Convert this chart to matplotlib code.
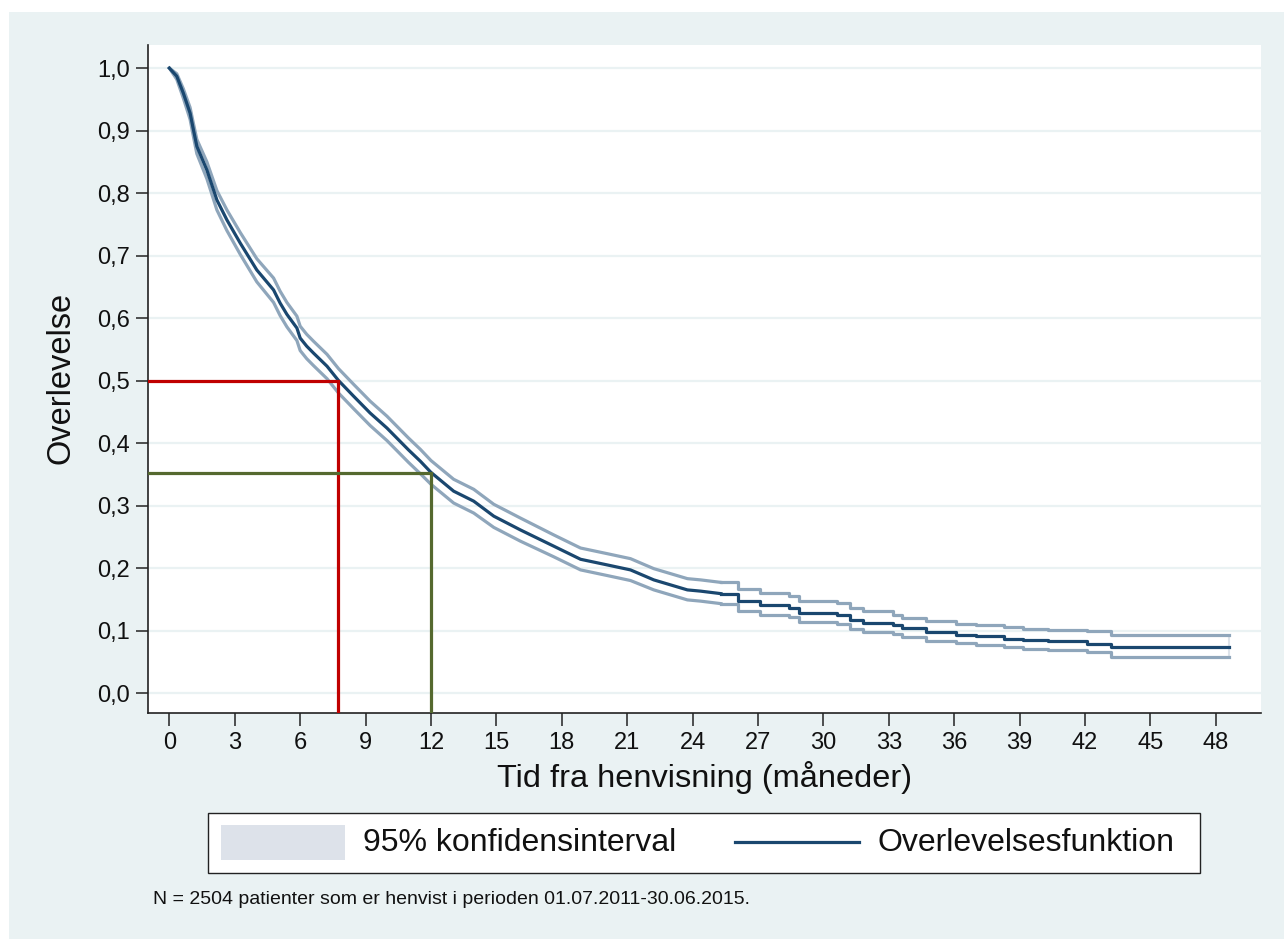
import matplotlib
matplotlib.use("Agg")
import matplotlib.pyplot as plt
from matplotlib.patches import Rectangle
from matplotlib.lines import Line2D

plt.rcParams['font.family'] = ['Liberation Sans', 'DejaVu Sans']

# Kaplan-Meier estimate (months, survival)
t_early = [0, 0.34, 0.64, 0.95, 1.1, 1.26, 1.72, 2.18, 2.64, 3.25, 4.01, 4.78, 5.08, 5.39,
           5.85, 6.0, 6.3, 6.61, 7.23, 7.76, 8.45, 9.21, 9.98, 10.97, 11.51, 12.0, 13.04,
           13.96, 14.88, 16.1, 17.63, 18.86, 20.08, 21.15, 22.22, 23.76, 24.37, 25.3]
s_early = [1.0, 0.987, 0.96, 0.928, 0.902, 0.875, 0.837, 0.789, 0.757, 0.72, 0.677, 0.645,
           0.624, 0.606, 0.584, 0.568, 0.555, 0.544, 0.523, 0.50, 0.475, 0.448, 0.424, 0.389,
           0.371, 0.353, 0.323, 0.307, 0.283, 0.261, 0.235, 0.214, 0.205, 0.197, 0.181, 0.165,
           0.163, 0.159]
hi_early = [1.0, 0.991, 0.967, 0.937, 0.912, 0.886, 0.850, 0.804, 0.773, 0.737, 0.695, 0.664,
            0.643, 0.625, 0.603, 0.587, 0.574, 0.563, 0.542, 0.519, 0.494, 0.467, 0.443, 0.408,
            0.390, 0.372, 0.342, 0.326, 0.302, 0.280, 0.253, 0.232, 0.223, 0.215, 0.199, 0.183,
            0.181, 0.177]
lo_early = [1.0, 0.982, 0.952, 0.918, 0.891, 0.863, 0.823, 0.773, 0.740, 0.702, 0.658, 0.625,
            0.604, 0.586, 0.564, 0.548, 0.535, 0.524, 0.503, 0.480, 0.455, 0.428, 0.404, 0.369,
            0.351, 0.334, 0.304, 0.288, 0.265, 0.243, 0.218, 0.197, 0.188, 0.180, 0.165, 0.149,
            0.147, 0.143]

# tail part, drawn as steps
t_tail = [25.3, 26.1, 27.1, 28.4, 28.9, 30.6, 31.2, 31.8, 33.2, 33.6, 34.7, 36.1, 37.0, 38.3,
          39.15, 40.3, 42.1, 43.2, 48.6]
s_tail = [0.159, 0.147, 0.141, 0.136, 0.128, 0.125, 0.117, 0.112, 0.109, 0.104, 0.097, 0.093,
          0.091, 0.086, 0.085, 0.083, 0.079, 0.0736, 0.0736]
hi_tail = [0.177, 0.166, 0.160, 0.155, 0.147, 0.144, 0.136, 0.131, 0.125, 0.120, 0.115, 0.111,
           0.109, 0.105, 0.103, 0.101, 0.099, 0.093, 0.093]
lo_tail = [0.143, 0.131, 0.125, 0.121, 0.113, 0.110, 0.102, 0.098, 0.095, 0.090, 0.083, 0.080,
           0.077, 0.073, 0.071, 0.069, 0.065, 0.0576, 0.0576]

median_t, median_s = 7.75, 0.5
year_t, year_s = 12.0, 0.3525

x_ticks = list(range(0, 49, 3))
y_ticks = [i / 10 for i in range(11)]
y_labels = [f"{v:.1f}".replace(".", ",") for v in y_ticks]
legend_labels = ["95% konfidensinterval", "Overlevelsesfunktion"]

BG = "#eaf2f3"
NAVY = "#1a476f"
CI = "#8fa6bb"
RED = "#c00000"
GREEN = "#55692f"
INK = "#111111"

W, H = 1284, 939


def fx(px):
    return px / W


def fy(py):
    return 1 - py / H


fig = plt.figure(figsize=(W / 100, H / 100), dpi=100, facecolor="white")
fig.patches.append(Rectangle((fx(9), -0.02), 1.02, 1.02 - 12 / H, transform=fig.transFigure,
                             facecolor=BG, edgecolor="none", zorder=-10))

ax = fig.add_axes([fx(148), fy(713), (1261 - 148) / W, (713 - 45) / H])
ax.set_facecolor("white")
ax.set_xlim(-0.98, 50.07)
ax.set_ylim(-0.032, 1.037)

for v in y_ticks:
    ax.axhline(v, color=BG, lw=1.6, zorder=1)

ax.plot(t_early, hi_early, color=CI, lw=2.3, zorder=2, solid_joinstyle="round")
ax.plot(t_early, lo_early, color=CI, lw=2.3, zorder=2, solid_joinstyle="round")
ax.plot(t_tail, hi_tail, color=CI, lw=2.3, zorder=2, drawstyle="steps-post")
ax.plot(t_tail, lo_tail, color=CI, lw=2.3, zorder=2, drawstyle="steps-post")
ax.vlines(t_tail[-1], lo_tail[-1], hi_tail[-1], color="#dde3ea", lw=1.5, zorder=1.5)
ax.plot(t_early, s_early, color=NAVY, lw=2.3, zorder=3, solid_joinstyle="round")
ax.plot(t_tail, s_tail, color=NAVY, lw=2.3, zorder=3, drawstyle="steps-post")

xmin, ymin = ax.get_xlim()[0], ax.get_ylim()[0]
ax.plot([xmin, median_t, median_t], [median_s, median_s, ymin], color=RED, lw=2.3, zorder=4,
        solid_joinstyle="miter")
ax.plot([xmin, year_t, year_t], [year_s, year_s, ymin], color=GREEN, lw=2.3, zorder=4,
        solid_joinstyle="miter")

for s in ["top", "right"]:
    ax.spines[s].set_visible(False)
for s in ["left", "bottom"]:
    ax.spines[s].set_linewidth(1.2)
    ax.spines[s].set_color("#222222")

ax.set_xticks(x_ticks)
ax.set_xticklabels([str(x) for x in x_ticks])
ax.set_yticks(y_ticks)
ax.set_yticklabels(y_labels)
ax.tick_params(axis="both", direction="out", length=9, width=1.1, color="#222222",
               labelsize=17, labelcolor=INK)
ax.tick_params(axis="x", pad=5)
ax.tick_params(axis="y", pad=4)

fig.text(fx(61), fy(378), "Overlevelse", rotation=90, ha="center", va="center",
         fontsize=23.5, color=INK)
fig.text(fx(704.5), fy(778), "Tid fra henvisning (måneder)", ha="center", va="center",
         fontsize=23.4, color=INK)

# legend box, drawn by hand to sit where the reference has it
fig.patches.append(Rectangle((fx(208), fy(872.5)), (1200 - 208) / W, (872.5 - 812.5) / H,
                             transform=fig.transFigure, facecolor="white",
                             edgecolor="#222222", lw=1.0, zorder=1))
fig.patches.append(Rectangle((fx(221), fy(860)), (345 - 221) / W, (860 - 825) / H,
                             transform=fig.transFigure, facecolor="#dde2ea",
                             edgecolor="none", zorder=2))
fig.lines.append(Line2D([fx(735), fx(859)], [fy(842), fy(842)], transform=fig.transFigure,
                        color=NAVY, lw=2.3, zorder=2))
fig.text(fx(363), fy(843), legend_labels[0], ha="left", va="center", fontsize=23, color=INK)
fig.text(fx(877), fy(843), legend_labels[1], ha="left", va="center", fontsize=23, color=INK)

fig.text(fx(153), fy(900),
         "N = 2504 patienter som er henvist i perioden 01.07.2011-30.06.2015.",
         ha="left", va="center", fontsize=14, color=INK)

fig.savefig("out.png", dpi=100, facecolor="white")
